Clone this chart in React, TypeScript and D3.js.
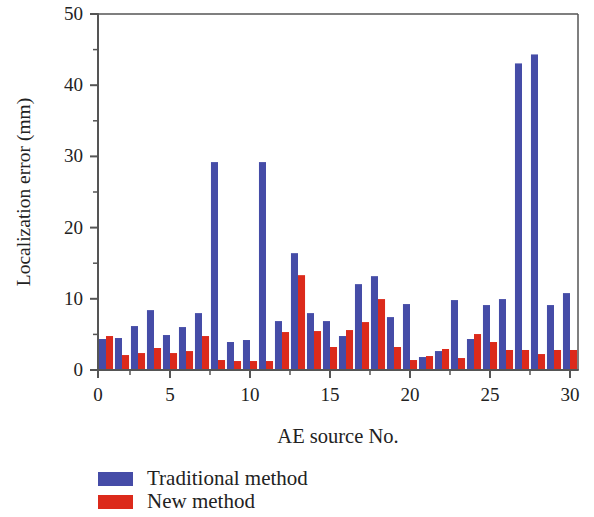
import React from 'react';
import * as d3 from 'd3';

// AE source numbers 1..30
const sources = d3.range(1, 31);
const traditional = [4.35, 4.49, 6.17, 8.41, 4.91, 6.03, 7.99, 29.2, 3.93, 4.21,
    29.2, 6.87, 16.41, 7.99, 6.87, 4.77, 12.06, 13.18, 7.43, 9.26,
    1.82, 2.66, 9.82, 4.35, 9.12, 9.96, 43.06, 44.32, 9.12, 10.8];
const newMethod = [4.77, 2.1, 2.38, 3.09, 2.38, 2.66, 4.77, 1.4, 1.26, 1.26,
    1.26, 5.33, 13.32, 5.47, 3.23, 5.61, 6.73, 9.96, 3.23, 1.4,
    1.96, 2.95, 1.68, 5.05, 3.93, 2.81, 2.81, 2.24, 2.81, 2.81];
const xTicks = [0, 5, 10, 15, 20, 25, 30];
const xMinor = [2.5, 7.5, 12.5, 17.5, 22.5, 27.5];
const yTicks = [0, 10, 20, 30, 40, 50];
const yMinor = [5, 15, 25, 35, 45];
const seriesNames = ['Traditional method', 'New method'];

const W = 594, H = 517;
const margin = { top: 14, right: 16, bottom: 147, left: 98 };
const BLUE = '#454ca7';
const RED = '#dc2a1b';
const AXIS = '#555';
const FONT = '"Liberation Serif", "DejaVu Serif", serif';

export default function App() {
    const x = d3.scaleLinear().domain([0.5, 30.5]).range([margin.left, W - margin.right]);
    const y = d3.scaleLinear().domain([0, 50]).range([H - margin.bottom, margin.top]);
    const barW = (x(1) - x(0)) * 0.44;
    const x0 = x.range()[0], x1 = x.range()[1];
    const y0 = y.range()[0], y1 = y.range()[1];

    return (
        <div style={{ position: 'absolute', left: 0, top: 0 }}>
            <svg width={W} height={H} style={{ display: 'block', background: '#fff' }} fontFamily={FONT}>
                {sources.map((s, i) => (
                    <g key={s}>
                        <rect x={x(s) - barW} y={y(traditional[i])} width={barW} height={y(0) - y(traditional[i])} fill={BLUE} />
                        <rect x={x(s)} y={y(newMethod[i])} width={barW} height={y(0) - y(newMethod[i])} fill={RED} />
                    </g>
                ))}

                {/* frame */}
                <line x1={x0} x2={x1} y1={y1} y2={y1} stroke={AXIS} strokeWidth={1.5} />
                <line x1={x1} x2={x1} y1={y1} y2={y0} stroke={AXIS} strokeWidth={1.5} />
                <line x1={x0} x2={x1 + 0.75} y1={y0} y2={y0} stroke={AXIS} strokeWidth={2} />
                <line x1={x0} x2={x0} y1={y1 - 0.75} y2={y0} stroke={AXIS} strokeWidth={2} />

                {/* x ticks */}
                {xTicks.map(t => {
                    const px = x(Math.max(t, 0.5));
                    return (
                        <g key={t}>
                            <line x1={px} x2={px} y1={y0} y2={y0 + 8} stroke={AXIS} strokeWidth={2} />
                            <text x={px} y={y0 + 31} textAnchor="middle" fontSize={19} fill="#222">{t}</text>
                        </g>
                    );
                })}
                {xMinor.map(t => (
                    <line key={t} x1={x(t)} x2={x(t)} y1={y0} y2={y0 + 5} stroke={AXIS} strokeWidth={1.5} />
                ))}

                {/* y ticks */}
                {yTicks.map(t => (
                    <g key={t}>
                        <line x1={x0 - 8} x2={x0} y1={y(t)} y2={y(t)} stroke={AXIS} strokeWidth={2} />
                        <text x={x0 - 15} y={y(t) + 6} textAnchor="end" fontSize={19} fill="#222">{t}</text>
                    </g>
                ))}
                {yMinor.map(t => (
                    <line key={t} x1={x0 - 5} x2={x0} y1={y(t)} y2={y(t)} stroke={AXIS} strokeWidth={1.5} />
                ))}

                <text x={(x0 + x1) / 2} y={443} textAnchor="middle" fontSize={20.5} fill="#222">AE source No.</text>
                <text transform={`translate(30,${(y0 + y1) / 2}) rotate(-90)`} textAnchor="middle" fontSize={19.5} fill="#222">
                    Localization error (mm)
                </text>

                {/* legend */}
                {seriesNames.map((name, i) => (
                    <g key={name} transform={`translate(98,${472 + i * 23})`}>
                        <rect x={0} y={0} width={35} height={14} fill={i === 0 ? BLUE : RED} />
                        <text x={49} y={13} fontSize={21} fill="#222">{name}</text>
                    </g>
                ))}
            </svg>
        </div>
    );
}
